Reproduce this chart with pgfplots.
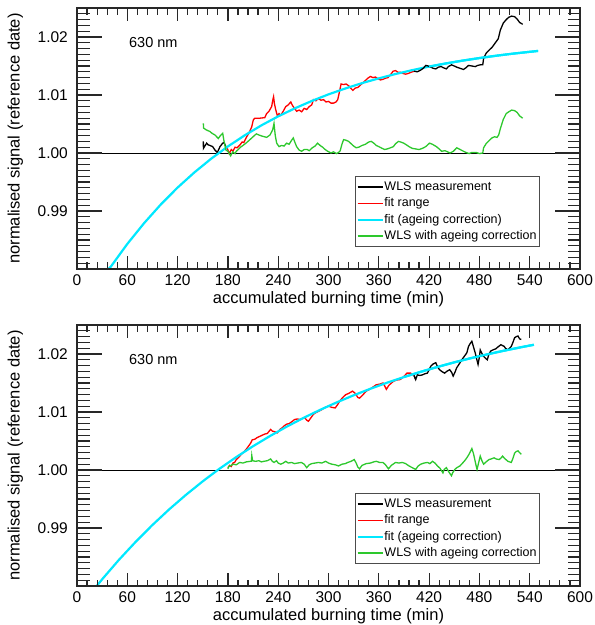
\documentclass[border=0pt]{standalone}
\usepackage{fontspec}
\setmainfont{Liberation Sans}
\usepackage{pgfplots}
\pgfplotsset{compat=1.18}
\definecolor{fitcyan}{RGB}{0,232,255}
\definecolor{wlsgreen}{RGB}{45,200,45}
\definecolor{axgray}{RGB}{40,40,40}

\tikzset{tk/.style={draw=axgray, line width=1.2pt, line cap=butt}}
\newcommand{\drawticks}{%
  \draw[tk] \foreach \t in {12,24,...,588} {(axis cs:\t,0.98) -- ++(0pt,6.5pt) (axis cs:\t,1.025) -- ++(0pt,-6.5pt)};
  \draw[tk] \foreach \t in {60,120,...,540} {(axis cs:\t,0.98) -- ++(0pt,13pt) (axis cs:\t,1.025) -- ++(0pt,-13pt)};
  \draw[tk] \foreach \v in {0.981,0.982,0.983,0.984,0.985,0.986,0.987,0.988,0.989,0.991,0.992,0.993,0.994,0.995,0.996,0.997,0.998,0.999,1.001,1.002,1.003,1.004,1.005,1.006,1.007,1.008,1.009,1.011,1.012,1.013,1.014,1.015,1.016,1.017,1.018,1.019,1.021,1.022,1.023,1.024} {(axis cs:0,\v) -- ++(12.5pt,0pt) (axis cs:600,\v) -- ++(-12.5pt,0pt)};
  \draw[tk] \foreach \v in {0.99,1.00,1.01,1.02} {(axis cs:0,\v) -- ++(25pt,0pt) (axis cs:600,\v) -- ++(-25pt,0pt)};
}

\pgfplotsset{
  base/.style={
    scale only axis, width=503pt, height=261pt,
    xmin=0, xmax=600, ymin=0.98, ymax=1.025,
    axis line style={axgray, line width=1.1pt},
    tick style={draw=axgray, line width=1.2pt},
    /pgf/number format/assume math mode=true,
    tick label style={font=\fontsize{15.5}{18}\selectfont},
    label style={font=\fontsize{16.5}{19}\selectfont},
    clip mode=individual,
  },
  yaxis/.style={
    base,
    xtick=\empty,
    ytick={0.99,1.00,1.01,1.02}, minor y tick num=9,
    major tick length=25pt, minor tick length=12.5pt,
    yticklabel style={/pgf/number format/fixed, /pgf/number format/fixed zerofill, /pgf/number format/precision=2, anchor=east, inner sep=0pt, xshift=-9pt},
    ylabel={normalised signal (reference date)},
    ylabel style={at={(axis description cs:-0.1143,0.5)}, anchor=base},
    legend style={at={(axis description cs:0.5527,0.3563)}, anchor=north west,
      draw=black!70, line width=0.9pt, font=\fontsize{12.5}{14}\selectfont,
      inner xsep=1.5pt, inner ysep=3.5pt, row sep=1.8pt,
      nodes={inner sep=1pt, text height=9.5pt, text depth=3pt, anchor=west}},
    legend cell align=left,
    legend image code/.code={\draw[#1, line width=1.5pt] (0pt,0pt) -- (25pt,0pt);},
  },
  xaxis/.style={
    base,
    ytick=\empty,
    xtick={0,60,...,600}, minor x tick num=4,
    major tick length=13pt, minor tick length=6.5pt,
    xticklabel style={anchor=base, yshift=-16.3pt},
    xlabel={accumulated burning time (min)},
    xlabel style={at={(axis description cs:0.5,-0.1303)}, anchor=base},
  },
  blk/.style={black, line width=1.3pt},
  rd/.style={red, line width=1.3pt},
  cy/.style={fitcyan, line width=2.2pt},
  gr/.style={wlsgreen, line width=1.3pt},
}

\begin{document}
\begin{tikzpicture}
\useasboundingbox (0pt,0pt) rectangle (595pt,-625pt);
% ---------------- top panel ----------------
\begin{axis}[yaxis, at={(77pt,-8pt)}, anchor=north west]
\addplot[black, line width=1pt, forget plot] coordinates {(0,1) (600,1)};
\addplot[blk] coordinates {
(150.7,1.0020) (150.8,1.0008) (152.5,1.0012) (154.7,1.0017) (156.5,1.0014) (158.6,1.0013) (161.8,1.0011) (164.6,1.0005) (167.4,1.0001) (170.6,1.0011) (173.8,1.0017) (175.5,1.0018) (177.5,1.0011) (179.3,1.0008)
};
\addlegendentry{WLS measurement}
\addplot[rd] coordinates {
(179.3,1.0008) (181.6,0.9999) (184,1.0006) (186,1.0003) (188.5,1.0010) (191,1.0009) (194.4,1.0014) (197,1.0019) (199,1.0018) (202.4,1.0028) (205,1.0034) (208.4,1.0045) (210.3,1.0057) (212,1.0060) (218,1.0060) (224,1.0061) (226.2,1.0068) (229,1.0072) (232.2,1.0080) (233.5,1.0091) (234.5,1.0097) (235.5,1.0085) (237,1.0075) (239,1.0064) (241,1.0068) (243,1.0065) (246,1.0072) (249,1.0080) (252,1.0083) (255,1.0088) (257,1.0082) (259.5,1.0077) (262,1.0072) (265,1.0074) (268,1.0071) (271,1.0077) (274,1.0075) (277,1.0080) (280,1.0083) (282,1.0092) (285,1.0090) (288,1.0094) (291,1.0091) (294,1.0092) (297,1.0088) (300,1.0089) (303,1.0086) (306,1.0086) (309,1.0088) (311,1.0092) (313,1.0105) (315,1.0119) (318,1.0118) (321,1.0119) (324,1.0116) (327,1.0111) (329,1.0108) (332,1.0112) (335,1.0113) (338,1.0117) (341,1.0121) (344,1.0125) (347,1.0129) (350,1.0132) (353,1.0130) (356,1.0131) (359,1.0128) (362,1.0126) (365,1.0127) (368,1.0129) (371,1.0130) (374,1.0135) (377,1.0141) (380,1.0142) (383,1.0139) (386,1.0139) (389,1.0137) (392,1.0136) (395,1.0137) (398,1.0139) (402,1.0141)
};
\addlegendentry{fit range}
\addplot[cy] coordinates {
(37.5,0.98) (40,0.98034) (60,0.98432) (80,0.98790) (100,0.99113) (120,0.99404) (140,0.99665) (160,0.99901) (180,1.00113) (200,1.00304) (220,1.00477) (240,1.00632) (260,1.00771) (280,1.00897) (300,1.01011) (320,1.01112) (340,1.01205) (360,1.01287) (380,1.01362) (400,1.01429) (420,1.01490) (440,1.01544) (460,1.01593) (480,1.01637) (500,1.01677) (520,1.01713) (550,1.01760)
};
\addlegendentry{fit (ageing correction)}
\addplot[gr] coordinates {
(150.7,1.0051) (151,1.0043) (154,1.0040) (158.6,1.0037) (161,1.0034) (164.6,1.0031) (168.6,1.0025) (171,1.0030) (173.8,1.0034) (175.4,1.0020) (177.7,1.0005) (180,1.0003) (183.3,0.9995) (185.7,1.0002) (188.5,0.9999) (190,1.0003) (192.4,1.0006) (195,1.0010) (198,1.0013) (202.4,1.0018) (207,1.0024) (212.3,1.0031) (214,1.0033) (217,1.0031) (221,1.0029) (226.2,1.0027) (230.2,1.0031) (233.4,1.0040) (235,1.0051) (236.5,1.0030) (238.2,1.0017) (241,1.0011) (244,1.0013) (247,1.0012) (250,1.0017) (253,1.0015) (256,1.0022) (258,1.0026) (260,1.0018) (262,1.0011) (265,1.0005) (268,1.0003) (271,1.0006) (274.6,1.0006) (277,1.0004) (280.7,1.0009) (284,1.0012) (287,1.0017) (290,1.0013) (293,1.0010) (296,1.0006) (299,1.0003) (303,1.0000) (306,1.0002) (309.5,0.9999) (312,1.0001) (314,1.0004) (316,1.0015) (318,1.0023) (321,1.0022) (324,1.0020) (327,1.0016) (330,1.0012) (333,1.0009) (336,1.0010) (340,1.0013) (344,1.0015) (348,1.0019) (351,1.0020) (354,1.0017) (357,1.0013) (360,1.0011) (364,1.0008) (367,1.0006) (370,1.0007) (374,1.0009) (377.4,1.0011) (380,1.0016) (383.5,1.0020) (386,1.0019) (389.7,1.0017) (393,1.0014) (396,1.0011) (400,1.0008) (404,1.0007) (408,1.0006) (412,1.0008) (416,1.0011) (420.5,1.0017) (424,1.0015) (428.7,1.0011) (432,1.0007) (435,1.0003) (439,1.0004) (442,1.0002) (445,1.0000) (449,1.0003) (453,1.0009) (457,1.0006) (461,1.0003) (464,1.0001) (467.7,0.9999) (471,1.0001) (476,1.0001) (480,0.9999) (484,1.0000) (485,1.0009) (488,1.0016) (492,1.0022) (495,1.0026) (498,1.0028) (501,1.0027) (503,1.0031) (505,1.0042) (508.5,1.0058) (512,1.0068) (515,1.0071) (518.5,1.0074) (522,1.0073) (525,1.0070) (528,1.0064) (531.6,1.0060)
};
\addlegendentry{WLS with ageing correction}
\addplot[blk, forget plot] coordinates {
(402,1.0141) (406,1.0140) (410,1.0143) (413,1.0146) (416,1.0151) (419,1.0150) (422,1.0148) (425,1.0146) (428,1.0145) (431,1.0148) (434.5,1.0149) (437,1.0147) (440.6,1.0145) (443,1.0149) (446.7,1.0152) (450,1.0150) (453,1.0148) (457,1.0146) (461,1.0144) (464,1.0147) (467,1.0151) (471,1.0150) (475,1.0149) (478,1.0151) (481,1.0152) (484,1.0152) (485,1.0163) (488,1.0172) (492,1.0178) (495,1.0182) (498,1.0188) (500,1.0192) (502.5,1.0197) (505,1.0212) (508.5,1.0224) (512,1.0230) (515,1.0234) (518.5,1.0236) (522,1.0235) (525,1.0231) (528,1.0225) (531.6,1.0222)
};
\addplot[cy, forget plot] coordinates {(420,1.01490) (440,1.01544) (460,1.01593) (480,1.01637) (500,1.01677) (520,1.01713) (550,1.01760)};
\node[anchor=west, font=\fontsize{14.5}{17}\selectfont] at (axis cs:58,1.0191) {630 nm};
\drawticks
\end{axis}
\begin{axis}[xaxis, at={(77pt,-8pt)}, anchor=north west]
\end{axis}
% ---------------- bottom panel ----------------
\begin{axis}[yaxis, at={(77pt,-325pt)}, anchor=north west]
\addplot[black, line width=1pt, forget plot] coordinates {(0,1) (600,1)};
\addplot[blk] coordinates {(402,1.0163) (404,1.0156)};
\addlegendentry{WLS measurement}
\addplot[rd] coordinates {
(180,1.0004) (182,1.0008) (184,1.0006) (186,1.0012) (188,1.0013) (190,1.0018) (193,1.0022) (196,1.0027) (199,1.0031) (202,1.0036) (205,1.0042) (207,1.0046) (209,1.0052) (212,1.0053) (215,1.0056) (218,1.0058) (221,1.0060) (224,1.0062) (227,1.0063) (231,1.0070) (233,1.0067) (236,1.0066) (239,1.0064) (242,1.0070) (245,1.0073) (247,1.0076) (250,1.0079) (253,1.0080) (256,1.0083) (259.5,1.0087) (263,1.0088) (266,1.0087) (269,1.0089) (271.7,1.0090) (274,1.0086) (276,1.0084) (279,1.0090) (282,1.0096) (285,1.0099) (288,1.0101) (292,1.0104) (296,1.0108) (300,1.0110) (304,1.0108) (308,1.0107) (311,1.0113) (314,1.0120) (317,1.0125) (320.6,1.0130) (324,1.0132) (328.7,1.0136) (332,1.0132) (335,1.0125) (337,1.0124) (340,1.0128) (345,1.0136) (349,1.0139) (353,1.0143) (357,1.0147) (361,1.0148) (365,1.0150) (367,1.0145) (369,1.0139) (372,1.0146) (377.5,1.0153) (381,1.0155) (385.6,1.0156) (389,1.0160) (393.6,1.0167) (398,1.0167) (402,1.0163)
};
\addlegendentry{fit range}
\addplot[cy] coordinates {
(23.5,0.98) (30,0.98116) (50,0.98451) (70,0.98762) (90,0.99052) (110,0.99322) (130,0.99572) (150,0.99805) (170,1.00022) (190,1.00223) (210,1.00410) (230,1.00584) (250,1.00746) (270,1.00897) (290,1.01037) (310,1.01167) (330,1.01288) (350,1.01401) (370,1.01506) (390,1.01603) (410,1.01693) (430,1.01777) (450,1.01856) (470,1.01929) (490,1.01996) (510,1.02059) (530,1.02118) (545,1.02159)
};
\addlegendentry{fit (ageing correction)}
\addplot[gr] coordinates {
(180,1.0002) (181,1.0006) (184,1.0008) (186,1.0010) (190,1.0009) (194,1.0013) (198,1.0012) (202,1.0014) (207,1.0015) (208,1.0015) (208.5,1.0025) (209.5,1.0016) (213,1.0015) (217,1.0016) (220,1.0014) (223,1.0015) (227,1.0016) (231,1.0019) (233,1.0015) (235,1.0013) (238,1.0016) (240,1.0012) (243,1.0010) (246,1.0012) (249,1.0015) (252,1.0012) (256,1.0013) (259.5,1.0011) (263,1.0012) (267.7,1.0013) (271,1.0010) (274,1.0004) (277,1.0009) (280,1.0011) (284,1.0012) (288,1.0013) (292,1.0012) (296.6,1.0015) (300,1.0012) (304,1.0010) (308,1.0009) (312,1.0007) (316,1.0010) (320,1.0011) (323,1.0013) (327,1.0015) (330.7,1.0018) (333,1.0012) (335,1.0005) (337,1.0002) (340,1.0008) (345,1.0011) (350,1.0012) (354,1.0014) (357,1.0015) (361,1.0013) (365,1.0013) (368,1.0009) (371.5,1.0002) (375,1.0008) (380,1.0013) (384,1.0012) (388,1.0013) (392,1.0011) (396,1.0007) (400,1.0004) (404,1.0001) (407,1.0007) (410,1.0010) (414,1.0012) (418,1.0013) (421,1.0011) (424,1.0015) (427,1.0012) (430,1.0007) (433,1.0003) (436.5,0.9995) (438,1.0001) (440.6,1.0004) (443,0.9998) (446.7,0.9990) (448,0.9995) (450.7,1.0001) (453,1.0004) (456.8,1.0007) (460,1.0012) (463,1.0017) (465,1.0021) (468,1.0028) (471,1.0037) (473,1.0028) (474.5,1.0018) (476,1.0008) (477.2,1.0001) (479,1.0012) (481,1.0024) (483,1.0016) (485,1.0010) (488,1.0014) (491.4,1.0018) (494,1.0019) (497.5,1.0021) (500,1.0019) (503.6,1.0018) (506,1.0021) (507.7,1.0024) (510,1.0020) (514,1.0015) (518,1.0013) (520,1.0020) (522,1.0029) (524,1.0032) (526,1.0033) (528,1.0030) (530,1.0027)
};
\addlegendentry{WLS with ageing correction}
\addplot[blk, forget plot] coordinates {
(402,1.0163) (404,1.0156) (406,1.0164) (409,1.0163) (412,1.0164) (415,1.0166) (418,1.0167) (420,1.0173) (422,1.0179) (425,1.0183) (428,1.0185) (430,1.0178) (432.4,1.0173) (435,1.0170) (438.5,1.0167) (441,1.0170) (444.6,1.0173) (447,1.0168) (448.7,1.0162) (451,1.0169) (452.8,1.0176) (456,1.0183) (459,1.0190) (462,1.0196) (465,1.0202) (467,1.0213) (469,1.0218) (471,1.0222) (473,1.0212) (475,1.0202) (477,1.0190) (478.4,1.0182) (480,1.0195) (481,1.0207) (483,1.0201) (485,1.0196) (487,1.0193) (489.4,1.0190) (491,1.0198) (493.4,1.0205) (496,1.0207) (499.6,1.0209) (502,1.0212) (505.7,1.0216) (509.7,1.0213) (511,1.0210) (513.8,1.0207) (516,1.0210) (518,1.0213) (520,1.0220) (522,1.0228) (524,1.0230) (526,1.0231) (528,1.0226) (530,1.0225)
};
\addplot[cy, forget plot] coordinates {(390,1.01603) (410,1.01693) (430,1.01777) (450,1.01856) (470,1.01929) (490,1.01996) (510,1.02059) (530,1.02118) (545,1.02159)};
\node[anchor=west, font=\fontsize{14.5}{17}\selectfont] at (axis cs:58,1.0190) {630 nm};
\drawticks
\end{axis}
\begin{axis}[xaxis, at={(77pt,-325pt)}, anchor=north west]
\end{axis}
\end{tikzpicture}
\end{document}
